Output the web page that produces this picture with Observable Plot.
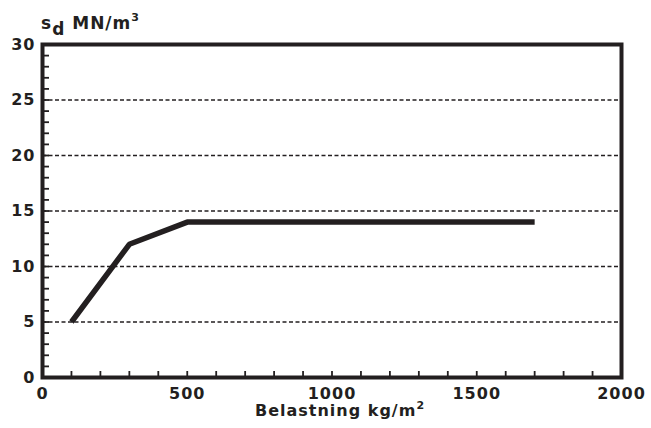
<!DOCTYPE html>
<html><head><meta charset="utf-8">
<script src="https://cdn.jsdelivr.net/npm/d3@7"></script>
<script src="https://cdn.jsdelivr.net/npm/@observablehq/plot@0.6"></script>
<style>body{margin:0;background:#fff}</style>
</head><body><div id="chart"></div>
<script>
// Data
const load = [100, 300, 500, 1700];        // Belastning kg/m2
const sd = [5, 12, 14, 14];                // s_d MN/m3
const xTickLabels = [0, 500, 1000, 1500, 2000];
const yTickLabels = [0, 5, 10, 15, 20, 25, 30];
const gridY = [5, 10, 15, 20, 25];
const xMinor = d3.range(100, 2000, 100);
const yMinor = d3.range(1, 30, 1);

const ink = "#231f20";
const W = 651, H = 428;
const mL = 42, mR = 30, mT = 44, mB = 51;
const pw = W - mL - mR, ph = H - mT - mB;

const data = load.map((x, i) => ({x, y: sd[i]}));

const chart = Plot.plot({
  width: W, height: H,
  marginLeft: mL, marginRight: mR, marginTop: mT, marginBottom: mB,
  style: {fontFamily: "'DejaVu Sans', sans-serif", fontSize: "16px", fontWeight: "bold", color: ink, background: "#fff"},
  x: {domain: [0, 2000]},
  y: {domain: [0, 30]},
  marks: [
    Plot.ruleY(gridY, {stroke: ink, strokeWidth: 1.6, strokeDasharray: "4,2.5"}),
    Plot.ruleX(xMinor, {stroke: ink, strokeWidth: 1.8, insetTop: ph - 6}),
    Plot.ruleY(yMinor, {stroke: ink, strokeWidth: 1.8, insetRight: pw - 7}),
    Plot.axisX({ticks: xTickLabels, tickFormat: d => String(d), tickSize: 0, tickPadding: 10, label: null, fill: ink}),
    Plot.axisY({ticks: yTickLabels, tickFormat: d => String(d), tickSize: 0, tickPadding: 7, label: null, fill: ink}),
    Plot.line(data, {x: "x", y: "y", stroke: ink, strokeWidth: 5.5, strokeLinejoin: "miter", strokeLinecap: "butt"}),
    Plot.frame({stroke: ink, strokeWidth: 4})
  ]
});
document.getElementById("chart").append(chart);

const svg = d3.select(chart);
svg.selectAll("text")
  .style("font-family", "'DejaVu Sans', sans-serif")
  .style("font-weight", "bold")
  .style("font-size", "16px")
  .style("letter-spacing", "1px");

const yl = svg.append("text").attr("x", 41).attr("y", 29).attr("fill", ink)
  .attr("text-anchor", "start")
  .style("font-family", "'DejaVu Sans', sans-serif").style("font-weight", "bold")
  .style("letter-spacing", "1px").style("font-size", "17px");
yl.append("tspan").text("s");
yl.append("tspan").attr("dy", 6).text("d");
yl.append("tspan").attr("dy", -6).text(" MN/m");
yl.append("tspan").attr("dy", -8).style("font-size", "11px").text("3");

const xl = svg.append("text").attr("x", 340).attr("y", 416).attr("text-anchor", "middle").attr("fill", ink)
  .style("font-family", "'DejaVu Sans', sans-serif").style("font-weight", "bold")
  .style("letter-spacing", "1px").style("font-size", "16px");
xl.append("tspan").text("Belastning kg/m");
xl.append("tspan").attr("dy", -7).style("font-size", "11px").text("2");
</script>
</body></html>
